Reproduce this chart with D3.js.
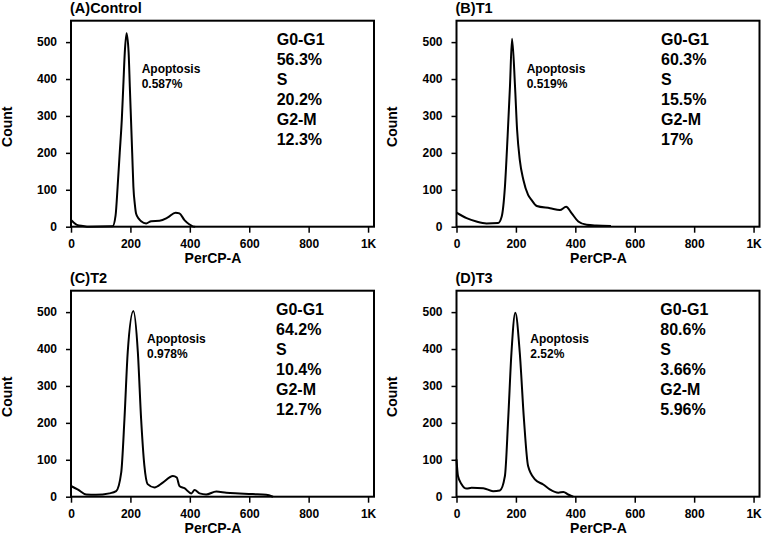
<!DOCTYPE html>
<html>
<head>
<meta charset="utf-8">
<script src="https://cdn.jsdelivr.net/npm/d3@7"></script>
<style>
	body{margin:0;background:#fff;}
	svg text{font-family:"Liberation Sans",Arial,sans-serif;fill:#000;}
</style>
</head>
<body>
<div id="chart"></div>
<script>
//データ（チャンネル値, カウント）
let controlCurve = [[0,18],[8,12],[20,5],[40,2],[60,0],[140,1],[150,30],[157,109],[164,200],[171,290],[176,380],[181,471],[187,524],[194,471],[198,380],[202,290],[206,200],[210,109],[215,60],[219,36],[228,22],[236,15],[253,9],[270,15],[298,16],[326,25],[352,38],[365,36],[382,18],[399,6],[410,1],[418,0]];
let t1Curve = [[0,38],[34,23],[67,14],[101,9],[140,10],[152,27],[163,108],[172,244],[180,380],[187,509],[197,380],[204,262],[213,181],[225,127],[241,86],[253,72],[270,56],[315,50],[348,45],[369,54],[388,36],[410,14],[438,5],[470,3],[520,2]];
let t2Curve = [[0,29],[22,20],[51,6],[84,5],[129,9],[152,15],[169,65],[180,211],[191,392],[210,503],[225,392],[236,211],[247,84],[258,34],[281,25],[309,38],[343,56],[356,52],[365,29],[382,23],[405,9],[416,18],[433,9],[455,6],[489,14],[523,11],[567,9],[612,7],[657,5],[680,0]];
let t3Curve = [[0,101],[5,56],[17,34],[34,22],[51,24],[90,23],[123,15],[146,17],[163,56],[174,210],[185,390],[198,498],[213,390],[227,210],[241,83],[264,47],[292,33],[314,20],[343,11],[360,13],[376,6],[393,0]];

let panelTitles = ["(A)Control","(B)T1","(C)T2","(D)T3"];
let phaseNames = ["G0-G1","S","G2-M"];
let controlPhases = ["56.3%","20.2%","12.3%"];
let t1Phases = ["60.3%","15.5%","17%"];
let t2Phases = ["64.2%","10.4%","12.7%"];
let t3Phases = ["80.6%","3.66%","5.96%"];
let apoptosisValues = ["0.587%","0.519%","0.978%","2.52%"];

let xTicks = [0,200,400,600,800,1000];
let yTicks = [0,100,200,300,400,500];

//レイアウト
let plotWidth = 303;
let plotHeight = 206;
let panels = [
	{left:71, top:20.7, curve:controlCurve, phases:controlPhases, apoX:70.7, phaseX:205.7},
	{left:456.5, top:20.7, curve:t1Curve, phases:t1Phases, apoX:70.2, phaseX:204.5},
	{left:71, top:290.7, curve:t2Curve, phases:t2Phases, apoX:76, phaseX:205},
	{left:456.5, top:290.7, curve:t3Curve, phases:t3Phases, apoX:73.8, phaseX:203.8}
];

let svg = d3.select("#chart").append("svg")
	.attr("width",762)
	.attr("height",536);

let x = d3.scaleLinear().domain([0,1020]).range([0,plotWidth]);
let y = d3.scaleLinear().domain([0,558]).range([plotHeight,0]);

function drawPanel(panel,i){
	let g = svg.append("g")
		.attr("transform","translate("+panel.left+","+panel.top+")");

	//タイトル
	g.append("text")
		.attr("x",-1)
		.attr("y",-7.4)
		.attr("font-size","14.5px")
		.attr("font-weight","bold")
		.text(panelTitles[i]);

	//軸
	let xAxis = d3.axisBottom(x)
		.tickValues(xTicks)
		.tickSize(6)
		.tickPadding(7)
		.tickFormat(function(d){return d==1000 ? "1K" : d;});
	let gx = g.append("g")
		.attr("transform","translate(0,"+plotHeight+")")
		.call(xAxis);

	let yAxis = d3.axisLeft(y)
		.tickValues(yTicks)
		.tickSize(5)
		.tickPadding(9);
	let gy = g.append("g").call(yAxis);

	[gx,gy].forEach(function(a){
		a.select(".domain").remove();
		a.selectAll(".tick line").attr("stroke","#000").attr("stroke-width",1.5);
		a.selectAll(".tick text")
			.attr("font-size","12px")
			.attr("font-weight","bold")
			.attr("font-family","Liberation Sans, Arial, sans-serif");
	});

	//ヒストグラム
	let line = d3.line()
		.x(function(d){return x(d[0]);})
		.y(function(d){return y(d[1]);})
		.curve(d3.curveMonotoneX);
	g.append("path")
		.datum(panel.curve)
		.attr("fill","none")
		.attr("stroke","#000")
		.attr("stroke-width",2)
		.attr("stroke-linejoin","round")
		.attr("d",line);

	//枠
	g.append("rect")
		.attr("x",0)
		.attr("y",0)
		.attr("width",plotWidth)
		.attr("height",plotHeight)
		.attr("fill","none")
		.attr("stroke","#000")
		.attr("stroke-width",2);

	//軸ラベル
	g.append("text")
		.attr("x",142)
		.attr("y",plotHeight+36.5)
		.attr("text-anchor","middle")
		.attr("font-size","14px")
		.attr("font-weight","bold")
		.text("PerCP-A");
	g.append("text")
		.attr("transform","translate(-59.5,106) rotate(-90)")
		.attr("text-anchor","middle")
		.attr("font-size","14px")
		.attr("font-weight","bold")
		.text("Count");

	//Apoptosis
	g.append("text")
		.attr("x",panel.apoX)
		.attr("y",52)
		.attr("font-size","12px")
		.attr("font-weight","bold")
		.text("Apoptosis");
	g.append("text")
		.attr("x",panel.apoX)
		.attr("y",67)
		.attr("font-size","12px")
		.attr("font-weight","bold")
		.text(apoptosisValues[i]);

	//細胞周期
	let lines = [];
	for(let k = 0; k < phaseNames.length; k++){
		lines.push(phaseNames[k]);
		lines.push(panel.phases[k]);
	}
	g.selectAll(".phase")
		.data(lines)
		.enter()
		.append("text")
		.attr("class","phase")
		.attr("x",panel.phaseX)
		.attr("y",function(d,k){return 24.5+k*20;})
		.attr("font-size","16px")
		.attr("font-weight","bold")
		.text(function(d){return d;});
}

panels.forEach(drawPanel);
</script>
</body>
</html>
